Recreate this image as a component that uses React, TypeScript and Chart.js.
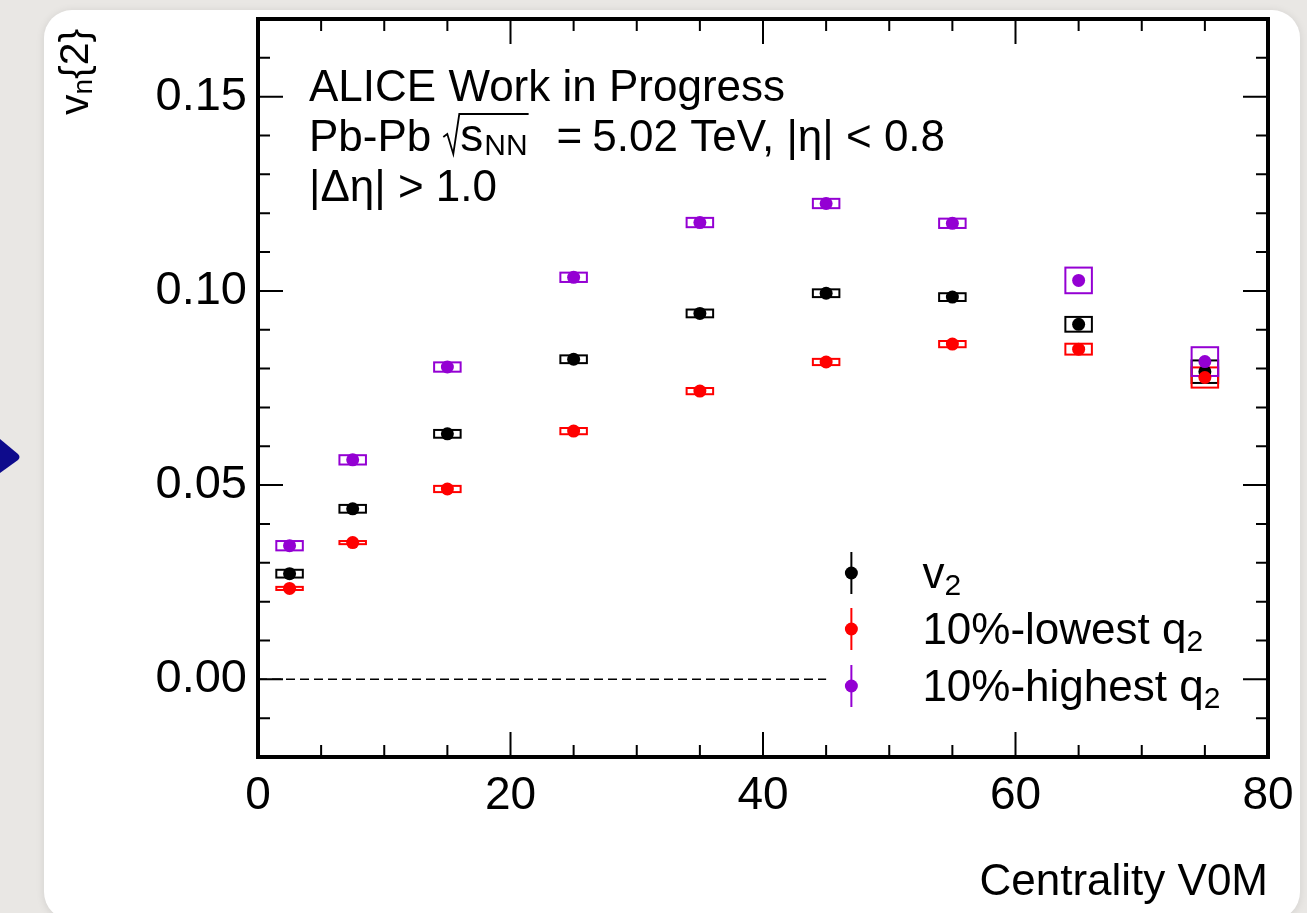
import React, { useEffect, useRef } from "react";
import { Chart, registerables } from "chart.js";

Chart.register(...registerables);

const FONT = "'Liberation Sans', Arial, Helvetica, sans-serif";

// ---------------- data ----------------
const centrality = [2.5, 7.5, 15, 25, 35, 45, 55, 65, 75];

const v2Values = [0.0272, 0.0439, 0.0632, 0.0824, 0.0942, 0.0994, 0.0984, 0.0914, 0.0792];
const v2Syst = [0.001, 0.001, 0.001, 0.001, 0.001, 0.001, 0.001, 0.0019, 0.0029];
const v2Stat = [0.0002, 0.0002, 0.0002, 0.0002, 0.0003, 0.0003, 0.0004, 0.0006, 0.001];

const lowQ2Values = [0.0234, 0.0352, 0.049, 0.0639, 0.0742, 0.0817, 0.0863, 0.085, 0.0777];
const lowQ2Syst = [0.0004, 0.0004, 0.0008, 0.0008, 0.0008, 0.0008, 0.0008, 0.0014, 0.0026];
const lowQ2Stat = [0.0003, 0.0003, 0.0003, 0.0003, 0.0004, 0.0004, 0.0005, 0.0008, 0.0012];

const highQ2Values = [0.0344, 0.0565, 0.0804, 0.1035, 0.1176, 0.1225, 0.1174, 0.1027, 0.0818];
const highQ2Syst = [0.0012, 0.0012, 0.0012, 0.0012, 0.0012, 0.0012, 0.0012, 0.0033, 0.0037];
const highQ2Stat = [0.0003, 0.0003, 0.0003, 0.0003, 0.0004, 0.0004, 0.0005, 0.0008, 0.0012];

const xTickValues = [0, 20, 40, 60, 80];
const yTickValues = [0, 0.05, 0.1, 0.15];
const zeroLineRange = [0, 45];

const legendLabels = [
  { base: "v", sub: "2" },
  { base: "10%-lowest q", sub: "2" },
  { base: "10%-highest q", sub: "2" },
];

const headerLines = ["ALICE Work in Progress", "|\u0394\u03b7| > 1.0"];

const COLORS = ["#000000", "#ff0000", "#9400d3"];
const SYST_HALF_WIDTH = 1.05;

const series = [
  { label: "v2", values: v2Values, syst: v2Syst, stat: v2Stat },
  { label: "10%-lowest q2", values: lowQ2Values, syst: lowQ2Syst, stat: lowQ2Stat },
  { label: "10%-highest q2", values: highQ2Values, syst: highQ2Syst, stat: highQ2Stat },
];

function drawParts(ctx: CanvasRenderingContext2D, parts: { t: string; size: number; dy: number }[], x: number, y: number) {
  let cx = x;
  for (const p of parts) {
    ctx.font = `${p.size}px ${FONT}`;
    ctx.fillText(p.t, cx, y + p.dy);
    cx += ctx.measureText(p.t).width;
  }
  return cx;
}

const alicePlugin = {
  id: "alicePlugin",
  beforeDatasetsDraw(chart: any) {
    const { ctx } = chart;
    const xs = chart.scales.x;
    const ys = chart.scales.y;
    ctx.save();
    // zero line
    ctx.strokeStyle = "#000";
    ctx.lineWidth = 1.6;
    ctx.setLineDash([9, 5]);
    ctx.beginPath();
    ctx.moveTo(xs.getPixelForValue(zeroLineRange[0]), ys.getPixelForValue(0));
    ctx.lineTo(xs.getPixelForValue(zeroLineRange[1]), ys.getPixelForValue(0));
    ctx.stroke();
    ctx.setLineDash([]);
    // systematic boxes + stat bars
    series.forEach((s, si) => {
      ctx.strokeStyle = COLORS[si];
      ctx.lineWidth = 2;
      s.values.forEach((v, i) => {
        const x0 = xs.getPixelForValue(centrality[i] - SYST_HALF_WIDTH);
        const x1 = xs.getPixelForValue(centrality[i] + SYST_HALF_WIDTH);
        const y0 = ys.getPixelForValue(v + s.syst[i]);
        const y1 = ys.getPixelForValue(v - s.syst[i]);
        ctx.strokeRect(x0, y0, x1 - x0, Math.max(y1 - y0, 1));
        const xc = xs.getPixelForValue(centrality[i]);
        ctx.beginPath();
        ctx.moveTo(xc, ys.getPixelForValue(v + s.stat[i]));
        ctx.lineTo(xc, ys.getPixelForValue(v - s.stat[i]));
        ctx.stroke();
      });
    });
    ctx.restore();
  },
  afterDatasetsDraw(chart: any) {
    const { ctx, chartArea } = chart;
    const { left, right, top, bottom } = chartArea;
    const xs = chart.scales.x;
    const ys = chart.scales.y;
    ctx.save();
    // inner ticks
    ctx.strokeStyle = "#000";
    ctx.lineWidth = 2;
    ctx.beginPath();
    for (let i = -1; i <= 16; i++) {
      const py = ys.getPixelForValue(i / 100);
      const len = i % 5 === 0 ? 25 : 12;
      ctx.moveTo(left, py);
      ctx.lineTo(left + len, py);
      ctx.moveTo(right, py);
      ctx.lineTo(right - len, py);
    }
    for (let i = 5; i < 80; i += 5) {
      const px = xs.getPixelForValue(i);
      const len = i % 20 === 0 ? 25 : 12;
      ctx.moveTo(px, bottom);
      ctx.lineTo(px, bottom - len);
      ctx.moveTo(px, top);
      ctx.lineTo(px, top + len);
    }
    ctx.stroke();
    // frame
    ctx.lineWidth = 4;
    ctx.strokeRect(left, top, right - left, bottom - top);

    // header text
    ctx.fillStyle = "#000";
    ctx.strokeStyle = "#000";
    ctx.textAlign = "left";
    ctx.textBaseline = "alphabetic";
    const tx = left + 51;
    ctx.font = `44px ${FONT}`;
    ctx.fillText(headerLines[0], tx, top + 82);
    // line 2 with sqrt(s_NN)
    const by = top + 132;
    ctx.font = `44px ${FONT}`;
    ctx.fillText("Pb-Pb", tx, by);
    let cx = tx + ctx.measureText("Pb-Pb").width + 12;
    const rx = cx;
    cx += 17;
    ctx.font = `46px ${FONT}`;
    ctx.fillText("s", cx, by);
    cx += ctx.measureText("s").width + 1;
    ctx.font = `30px ${FONT}`;
    ctx.fillText("NN", cx, by + 4);
    cx += ctx.measureText("NN").width + 3;
    ctx.lineWidth = 1.8;
    ctx.beginPath();
    ctx.moveTo(rx, by - 14);
    ctx.lineTo(rx + 4, by - 17);
    ctx.lineTo(rx + 10, by + 3);
    ctx.lineTo(rx + 16, by - 37);
    ctx.lineTo(cx - 2, by - 37);
    ctx.stroke();
    ctx.font = `44px ${FONT}`;
    cx += 26;
    ctx.fillText("=", cx, by);
    cx += ctx.measureText("=").width + 10;
    ctx.fillText("5.02 TeV, |\u03b7| < 0.8", cx, by);
    ctx.fillText(headerLines[1], tx, top + 182);

    // legend
    const lx = xs.getPixelForValue(47);
    const rows = [573, 629, 686];
    legendLabels.forEach((lab, i) => {
      const y = rows[i];
      ctx.strokeStyle = COLORS[i];
      ctx.fillStyle = COLORS[i];
      ctx.lineWidth = 2;
      ctx.beginPath();
      ctx.moveTo(lx, y - 21);
      ctx.lineTo(lx, y + 21);
      ctx.stroke();
      ctx.beginPath();
      ctx.arc(lx, y, 6.5, 0, Math.PI * 2);
      ctx.fill();
      ctx.fillStyle = "#000";
      drawParts(
        ctx,
        [
          { t: lab.base, size: 44, dy: 0 },
          { t: lab.sub, size: 30, dy: 7 },
        ],
        lx + 71,
        y + 15
      );
    });

    // y axis title v_n{2}
    ctx.save();
    ctx.translate(88, 115);
    ctx.rotate(-Math.PI / 2);
    ctx.fillStyle = "#000";
    drawParts(
      ctx,
      [
        { t: "v", size: 41, dy: 0 },
        { t: "n", size: 28, dy: 4 },
        { t: "{2}", size: 41, dy: 0 },
      ],
      0,
      0
    );
    ctx.restore();
    ctx.restore();
  },
};

export default function App() {
  const canvasRef = useRef<HTMLCanvasElement | null>(null);

  useEffect(() => {
    if (!canvasRef.current) return;
    const datasets = series.map((s, si) => ({
      label: s.label,
      data: s.values.map((v, i) => ({ x: centrality[i], y: v })),
      backgroundColor: COLORS[si],
      borderColor: COLORS[si],
      borderWidth: 0,
      pointRadius: 6.5,
      pointHoverRadius: 6.5,
      showLine: false,
      order: 3 - si,
    }));
    const chart = new Chart(canvasRef.current, {
      type: "scatter",
      data: { datasets },
      options: {
        animation: false,
        responsive: false,
        events: [],
        layout: { padding: { top: 19, right: 39, bottom: 0, left: 0 } },
        plugins: { legend: { display: false }, tooltip: { enabled: false } },
        scales: {
          x: {
            type: "linear",
            min: 0,
            max: 80,
            grid: { display: false },
            border: { display: false },
            ticks: {
              color: "#000",
              font: { family: FONT, size: 46 },
              padding: 4,
              maxRotation: 0,
              autoSkip: false,
              callback: (v: any) => String(v),
            },
            afterBuildTicks: (scale: any) => {
              scale.ticks = xTickValues.map((v) => ({ value: v }));
            },
            afterFit: (scale: any) => {
              scale.height = 156;
              scale.paddingLeft = 0;
              scale.paddingRight = 0;
            },
            title: {
              display: true,
              text: "Centrality V0M",
              align: "end",
              color: "#000",
              font: { family: FONT, size: 44 },
              padding: { top: 0, bottom: 4 },
            },
          },
          y: {
            type: "linear",
            min: -0.02,
            max: 0.17,
            grid: { display: false },
            border: { display: false },
            ticks: {
              color: "#000",
              font: { family: FONT, size: 47 },
              padding: 3,
              callback: (v: any) => Number(v).toFixed(2),
            },
            afterBuildTicks: (scale: any) => {
              scale.ticks = yTickValues.map((v) => ({ value: v }));
            },
            afterFit: (scale: any) => {
              scale.width = 258;
              scale.paddingTop = 0;
              scale.paddingBottom = 0;
            },
          },
        },
      },
      plugins: [alicePlugin],
    } as any);
    return () => chart.destroy();
  }, []);

  return (
    <div
      style={{
        position: "fixed",
        left: 0,
        top: 0,
        width: 1307,
        height: 913,
        background: "#e9e7e4",
        overflow: "hidden",
      }}
    >
      <div
        style={{
          position: "absolute",
          left: 44,
          top: 10,
          width: 1256,
          height: 910,
          background: "#ffffff",
          borderRadius: 28,
          boxShadow: "0 1px 8px rgba(0,0,0,0.10)",
        }}
      />
      <svg
        style={{ position: "absolute", left: 0, top: 436 }}
        width={26}
        height={42}
        viewBox="0 0 26 42"
      >
        <path d="M0,3 L18,18 Q21,21 18,24 L0,37 Z" fill="#0e0b8c" />
      </svg>
      <canvas
        ref={canvasRef}
        width={1307}
        height={913}
        style={{ position: "absolute", left: 0, top: 0, width: 1307, height: 913 }}
      />
    </div>
  );
}
